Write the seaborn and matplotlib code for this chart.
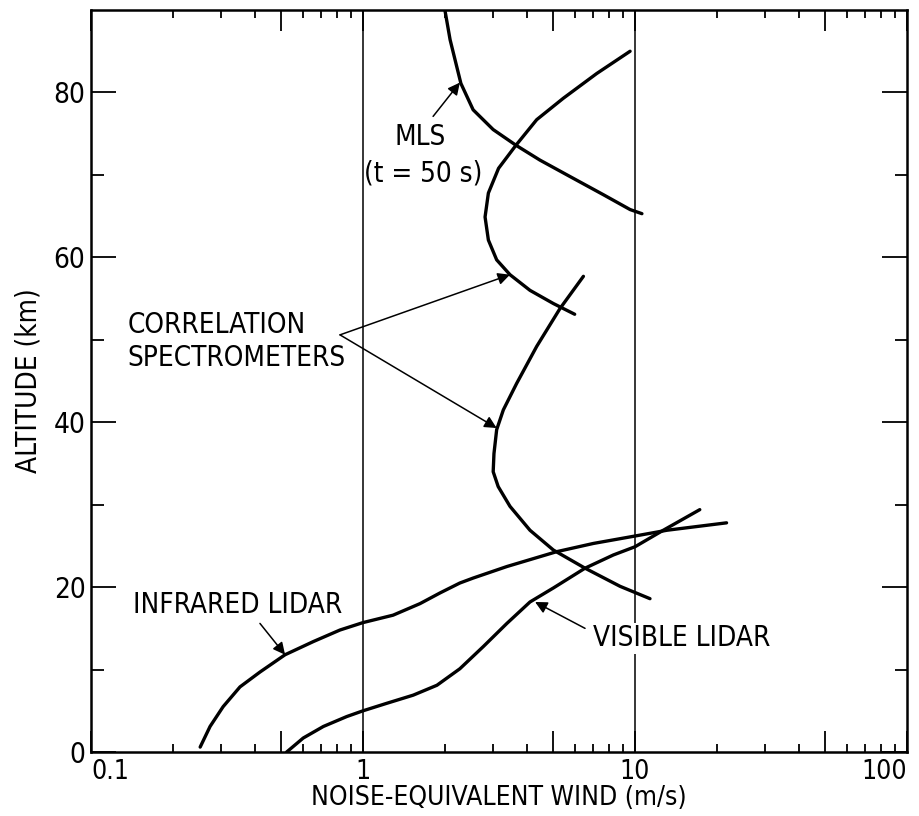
import pandas as pd
import matplotlib
matplotlib.use('Agg')
import matplotlib.pyplot as plt
import seaborn as sns

sns.set_style('ticks')
plt.rcParams['font.family'] = ['DejaVu Sans']
plt.rcParams['font.stretch'] = 'condensed'
plt.rcParams['text.color'] = 'black'
plt.rcParams['axes.labelcolor'] = 'black'
plt.rcParams['xtick.color'] = 'black'
plt.rcParams['ytick.color'] = 'black'

# curves (wind in m/s, altitude in km)
mls_wind = [2.0, 2.09, 2.29, 2.54, 3.01, 3.65, 4.47, 5.77, 7.65, 9.59, 10.6]
mls_alt = [90.0, 86.4, 81.1, 77.9, 75.5, 73.6, 71.8, 69.8, 67.6, 65.8, 65.3]

cs_upper_wind = [9.59, 7.23, 5.45, 4.35, 3.65, 3.15, 2.89, 2.81, 2.89, 3.10, 3.47, 4.11, 5.01, 6.0]
cs_upper_alt = [85.0, 82.3, 79.3, 76.7, 73.6, 70.8, 67.8, 64.9, 62.1, 59.7, 57.9, 56.0, 54.4, 53.1]

cs_lower_wind = [6.46, 5.30, 4.35, 3.67, 3.28, 3.10, 3.03, 3.01, 3.14, 3.47, 4.11, 5.01,
                 6.55, 8.81, 11.35]
cs_lower_alt = [57.7, 53.8, 49.2, 44.7, 41.5, 39.1, 36.2, 34.0, 32.2, 29.8, 26.9, 24.5,
                22.3, 20.1, 18.6]

ir_wind = [0.252, 0.274, 0.306, 0.353, 0.418, 0.517, 0.657, 0.823, 1.0, 1.29, 1.62, 1.92,
           2.27, 2.54, 3.38, 5.15, 7.03, 10.0, 13.1, 21.7]
ir_alt = [0.6, 3.1, 5.5, 7.9, 9.7, 11.8, 13.4, 14.8, 15.7, 16.6, 18.0, 19.3,
          20.5, 21.1, 22.5, 24.3, 25.3, 26.2, 26.9, 27.8]

vis_wind = [0.524, 0.603, 0.715, 0.871, 1.0, 1.22, 1.53, 1.87, 2.27, 2.77, 3.38, 4.11,
            5.01, 6.55, 8.32, 10.0, 12.7, 17.3]
vis_alt = [0.0, 1.7, 3.1, 4.3, 5.0, 5.9, 6.9, 8.1, 10.1, 12.8, 15.6, 18.2,
           19.9, 22.3, 23.9, 24.9, 26.9, 29.4]

fig = plt.figure(figsize=(9.19, 8.16), dpi=100)
ax = fig.add_axes([0.099, 0.0784, 0.888, 0.9093])

for w, a in [(mls_wind, mls_alt), (cs_upper_wind, cs_upper_alt),
             (cs_lower_wind, cs_lower_alt), (ir_wind, ir_alt), (vis_wind, vis_alt)]:
    df = pd.DataFrame({'wind': w, 'alt': a})
    sns.lineplot(data=df, x='wind', y='alt', sort=False, estimator=None,
                 color='black', lw=2.4, ax=ax)

ax.axvline(1, color='black', lw=1.1)
ax.axvline(10, color='black', lw=1.1)

ax.set_xscale('log')
ax.set_xlim(0.1, 100)
ax.set_ylim(0, 90)

ax.set_xticks([0.1, 0.5, 1, 5, 10, 50, 100])
ax.set_xticklabels(['0.1', '', '1', '', '10', '', '100'])
ax.set_xticks([m * d for d in [0.1, 1, 10] for m in [2, 3, 4, 6, 7, 8, 9]], minor=True)
ax.set_xticklabels([], minor=True)
ax.set_yticks([0, 20, 40, 60, 80])
ax.set_yticks([10, 30, 50, 70], minor=True)

ax.tick_params(axis='x', which='major', direction='in', top=True, length=15, width=1.3,
               labelsize=19, pad=5)
ax.tick_params(axis='x', which='minor', direction='in', top=True, length=6, width=1.3)
ax.tick_params(axis='y', which='major', direction='in', right=True, length=18, width=1.3,
               labelsize=20, pad=4)
ax.tick_params(axis='y', which='minor', direction='in', right=True, length=9, width=1.3)
xl = ax.get_xticklabels()
xl[0].set_ha('left')
xl[-1].set_ha('right')
for s in ax.spines.values():
    s.set_linewidth(1.8)
    s.set_color('black')

ax.set_xlabel('NOISE-EQUIVALENT WIND (m/s)', fontsize=19, labelpad=0)
ax.set_ylabel('ALTITUDE (km)', fontsize=20, labelpad=8)

arrow = dict(arrowstyle='-|>', color='black', lw=1.1, mutation_scale=18, shrinkA=0, shrinkB=0)

ax.annotate('', xy=(2.27, 81.2), xytext=(1.81, 77.1), arrowprops=arrow)
ax.text(1.62, 74.6, 'MLS', fontsize=20, ha='center', va='center')
ax.text(1.66, 70.2, '(t = 50 s)', fontsize=20, ha='center', va='center')

ax.text(0.136, 49.8, 'CORRELATION\nSPECTROMETERS', fontsize=20, ha='left', va='center',
        linespacing=1.25)
ax.annotate('', xy=(3.47, 57.9), xytext=(0.823, 50.6), arrowprops=arrow)
ax.annotate('', xy=(3.10, 39.3), xytext=(0.823, 50.6), arrowprops=arrow)

ax.text(0.143, 17.8, 'INFRARED LIDAR', fontsize=20, ha='left', va='center')
ax.annotate('', xy=(0.517, 11.8), xytext=(0.418, 15.6), arrowprops=arrow)

ax.text(7.0, 13.8, 'VISIBLE LIDAR', fontsize=20, ha='left', va='center',
        bbox=dict(facecolor='white', edgecolor='none', pad=1))
ax.annotate('', xy=(4.29, 18.2), xytext=(6.55, 15.0), arrowprops=arrow)

fig.savefig('out.png', dpi=100)
